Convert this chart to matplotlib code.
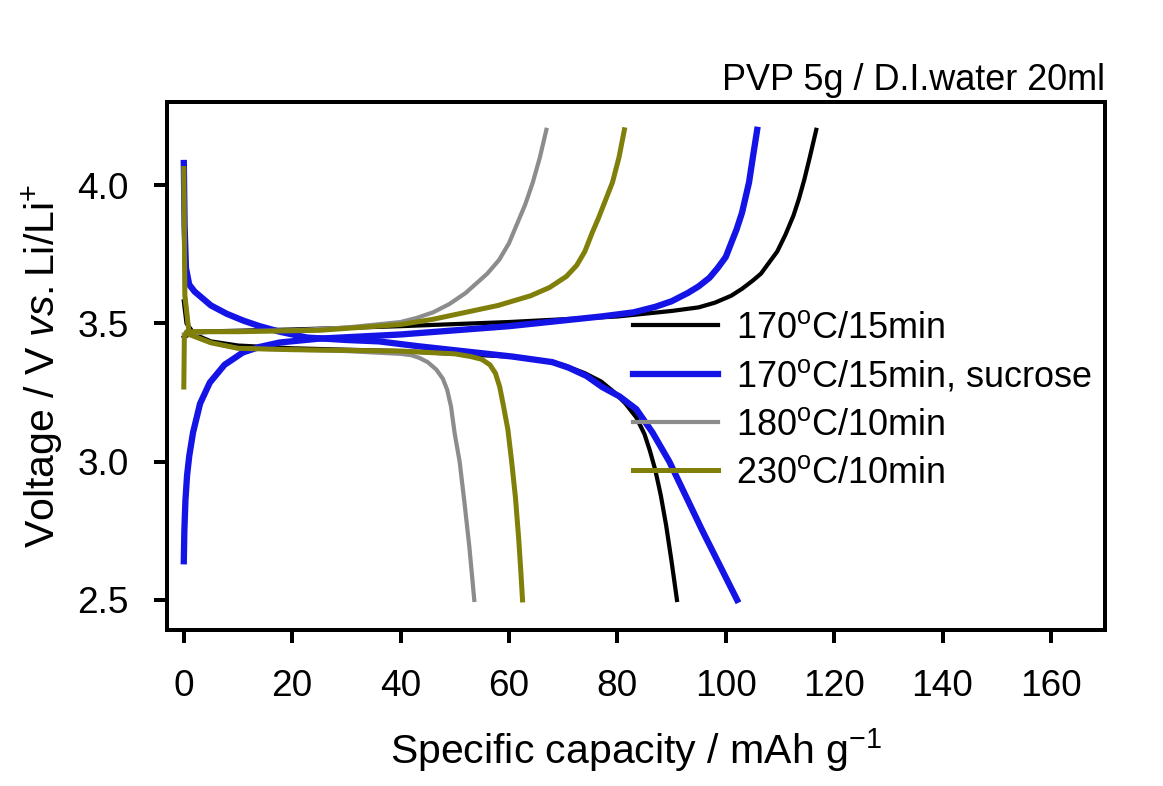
import numpy as np
import matplotlib as mpl
mpl.use('Agg')
import matplotlib.pyplot as plt

plt.rcParams['font.family'] = ['Liberation Sans', 'DejaVu Sans']
plt.rcParams['mathtext.fontset'] = 'custom'
plt.rcParams['mathtext.rm'] = 'Liberation Sans'
plt.rcParams['mathtext.it'] = 'Liberation Sans:italic'

labels = ['170$^\\mathrm{o}$C/15min', '170$^\\mathrm{o}$C/15min, sucrose',
          '180$^\\mathrm{o}$C/10min', '230$^\\mathrm{o}$C/10min']
colors = ['#000000', '#1414e6', '#8c8c8c', '#7f7f0a']
widths = [4.2, 6.3, 4.2, 5.0]

# charge curves (capacity, voltage)
chg_x = [
    [0, 2, 20, 40, 60, 80, 90, 95, 98, 101, 103, 105, 106.5, 108, 109.5, 111, 112.5, 113.5, 114.5, 115.5, 116.7],
    [0, 0.1, 0.3, 0.6, 1.0, 1.7, 3, 4.8, 7.5, 10.9, 14, 17.7, 25, 40, 60, 77, 83, 87, 90, 93, 95, 97, 98.5, 100, 101, 102, 103, 104.3, 105, 105.8],
    [0, 5, 20, 30, 40, 43, 46, 49, 52, 54, 56, 58.2, 60, 61.5, 63, 64.4, 65.7, 66.9],
    [0, 0.1, 0.5, 10, 25, 40, 46, 52, 58, 64, 67.5, 70.6, 72.5, 74, 75.4, 76.5, 77.5, 79.1, 80.3, 81.3],
]
chg_y = [
    [3.45, 3.47, 3.478, 3.49, 3.505, 3.525, 3.545, 3.558, 3.575, 3.60, 3.625, 3.655, 3.68, 3.72, 3.76, 3.82, 3.89, 3.95, 4.02, 4.10, 4.2],
    [2.64, 2.75, 2.86, 2.95, 3.02, 3.105, 3.21, 3.286, 3.35, 3.395, 3.415, 3.431, 3.445, 3.46, 3.49, 3.525, 3.54, 3.56, 3.58, 3.61, 3.634, 3.665, 3.70, 3.74, 3.79, 3.84, 3.9, 4.01, 4.1, 4.2],
    [3.46, 3.47, 3.475, 3.485, 3.505, 3.52, 3.54, 3.57, 3.61, 3.645, 3.68, 3.73, 3.79, 3.86, 3.93, 4.01, 4.1, 4.2],
    [3.27, 3.45, 3.47, 3.47, 3.475, 3.496, 3.515, 3.54, 3.565, 3.60, 3.63, 3.67, 3.71, 3.76, 3.83, 3.88, 3.93, 4.01, 4.1, 4.2],
]

# discharge curves (capacity, voltage)
dis_x = [
    [0, 0.5, 2, 5, 10, 20, 40, 60, 65, 70, 74, 77, 79.5, 81.5, 83.5, 85, 86, 87, 88, 89, 90, 91],
    [0, 0.15, 0.4, 1, 2, 2.9, 5, 7.9, 11, 14, 17.7, 22.7, 30, 36, 43.5, 60.7, 68, 71, 74.3, 77.2, 80.4, 83.5, 86.5, 89.6, 95.7, 102.1],
    [0, 0.2, 1, 5, 10, 20, 30, 40, 42, 43.5, 45, 46.6, 47.8, 48.6, 49.3, 50, 50.9, 51.8, 52.7, 53.6],
    [0, 0.2, 1, 5, 10, 20, 40, 50, 53, 55, 56.5, 57.5, 58.3, 59, 59.8, 60.5, 61.2, 61.8, 62.2, 62.5],
]
dis_y = [
    [3.58, 3.5, 3.46, 3.435, 3.42, 3.41, 3.40, 3.38, 3.37, 3.35, 3.32, 3.29, 3.25, 3.21, 3.16, 3.1, 3.04, 2.97, 2.88, 2.77, 2.64, 2.5],
    [4.08, 3.85, 3.70, 3.64, 3.615, 3.60, 3.565, 3.535, 3.51, 3.49, 3.47, 3.449, 3.44, 3.435, 3.417, 3.38, 3.36, 3.34, 3.31, 3.27, 3.236, 3.19, 3.105, 3.0, 2.75, 2.5],
    [4.05, 3.6, 3.46, 3.43, 3.41, 3.405, 3.40, 3.39, 3.385, 3.375, 3.36, 3.333, 3.30, 3.26, 3.20, 3.10, 3.0, 2.85, 2.69, 2.5],
    [4.06, 3.6, 3.46, 3.43, 3.41, 3.405, 3.40, 3.39, 3.38, 3.37, 3.35, 3.32, 3.27, 3.2, 3.116, 3.0, 2.87, 2.72, 2.6, 2.5],
]


def main():
  fig = plt.figure(figsize=(1163 / 72., 786 / 72.), dpi=72)
  ax = fig.add_axes([0.1436, 0.198, 0.8066, 0.672])

  for i in range(len(labels)):
    ax.plot(chg_x[i], chg_y[i], color=colors[i], lw=widths[i], label=labels[i])
    ax.plot(dis_x[i], dis_y[i], color=colors[i], lw=widths[i])

  ax.set_xlim(-3.1, 170)
  ax.set_ylim(2.39, 4.30)
  ax.set_xticks(np.arange(0, 161, 20))
  ax.set_yticks([2.5, 3.0, 3.5, 4.0])
  ax.yaxis.set_major_formatter(mpl.ticker.FormatStrFormatter('%.1f'))
  ax.tick_params(axis='x', direction='out', length=13, width=4, labelsize=37, pad=26)
  ax.tick_params(axis='y', direction='out', length=13, width=4, labelsize=37, pad=25)
  for s in ax.spines.values():
    s.set_linewidth(4)

  ax.set_xlabel('Specific capacity / mAh g$^{-1}$', fontsize=41, labelpad=22)
  ax.set_ylabel('Voltage / V $\\it{vs.}$Li/Li$^{+}$', fontsize=41, labelpad=12)
  ax.set_title('PVP 5g / D.I.water 20ml', fontsize=36, loc='right', pad=12)

  ax.legend(loc='upper left', bbox_to_anchor=(0.497, 0.605), frameon=False,
            fontsize=36, handlelength=2.35, handletextpad=0.5,
            labelspacing=0.36, borderpad=0, borderaxespad=0)

  plt.savefig('out.png', dpi=72)


if __name__ == '__main__':
  main()
